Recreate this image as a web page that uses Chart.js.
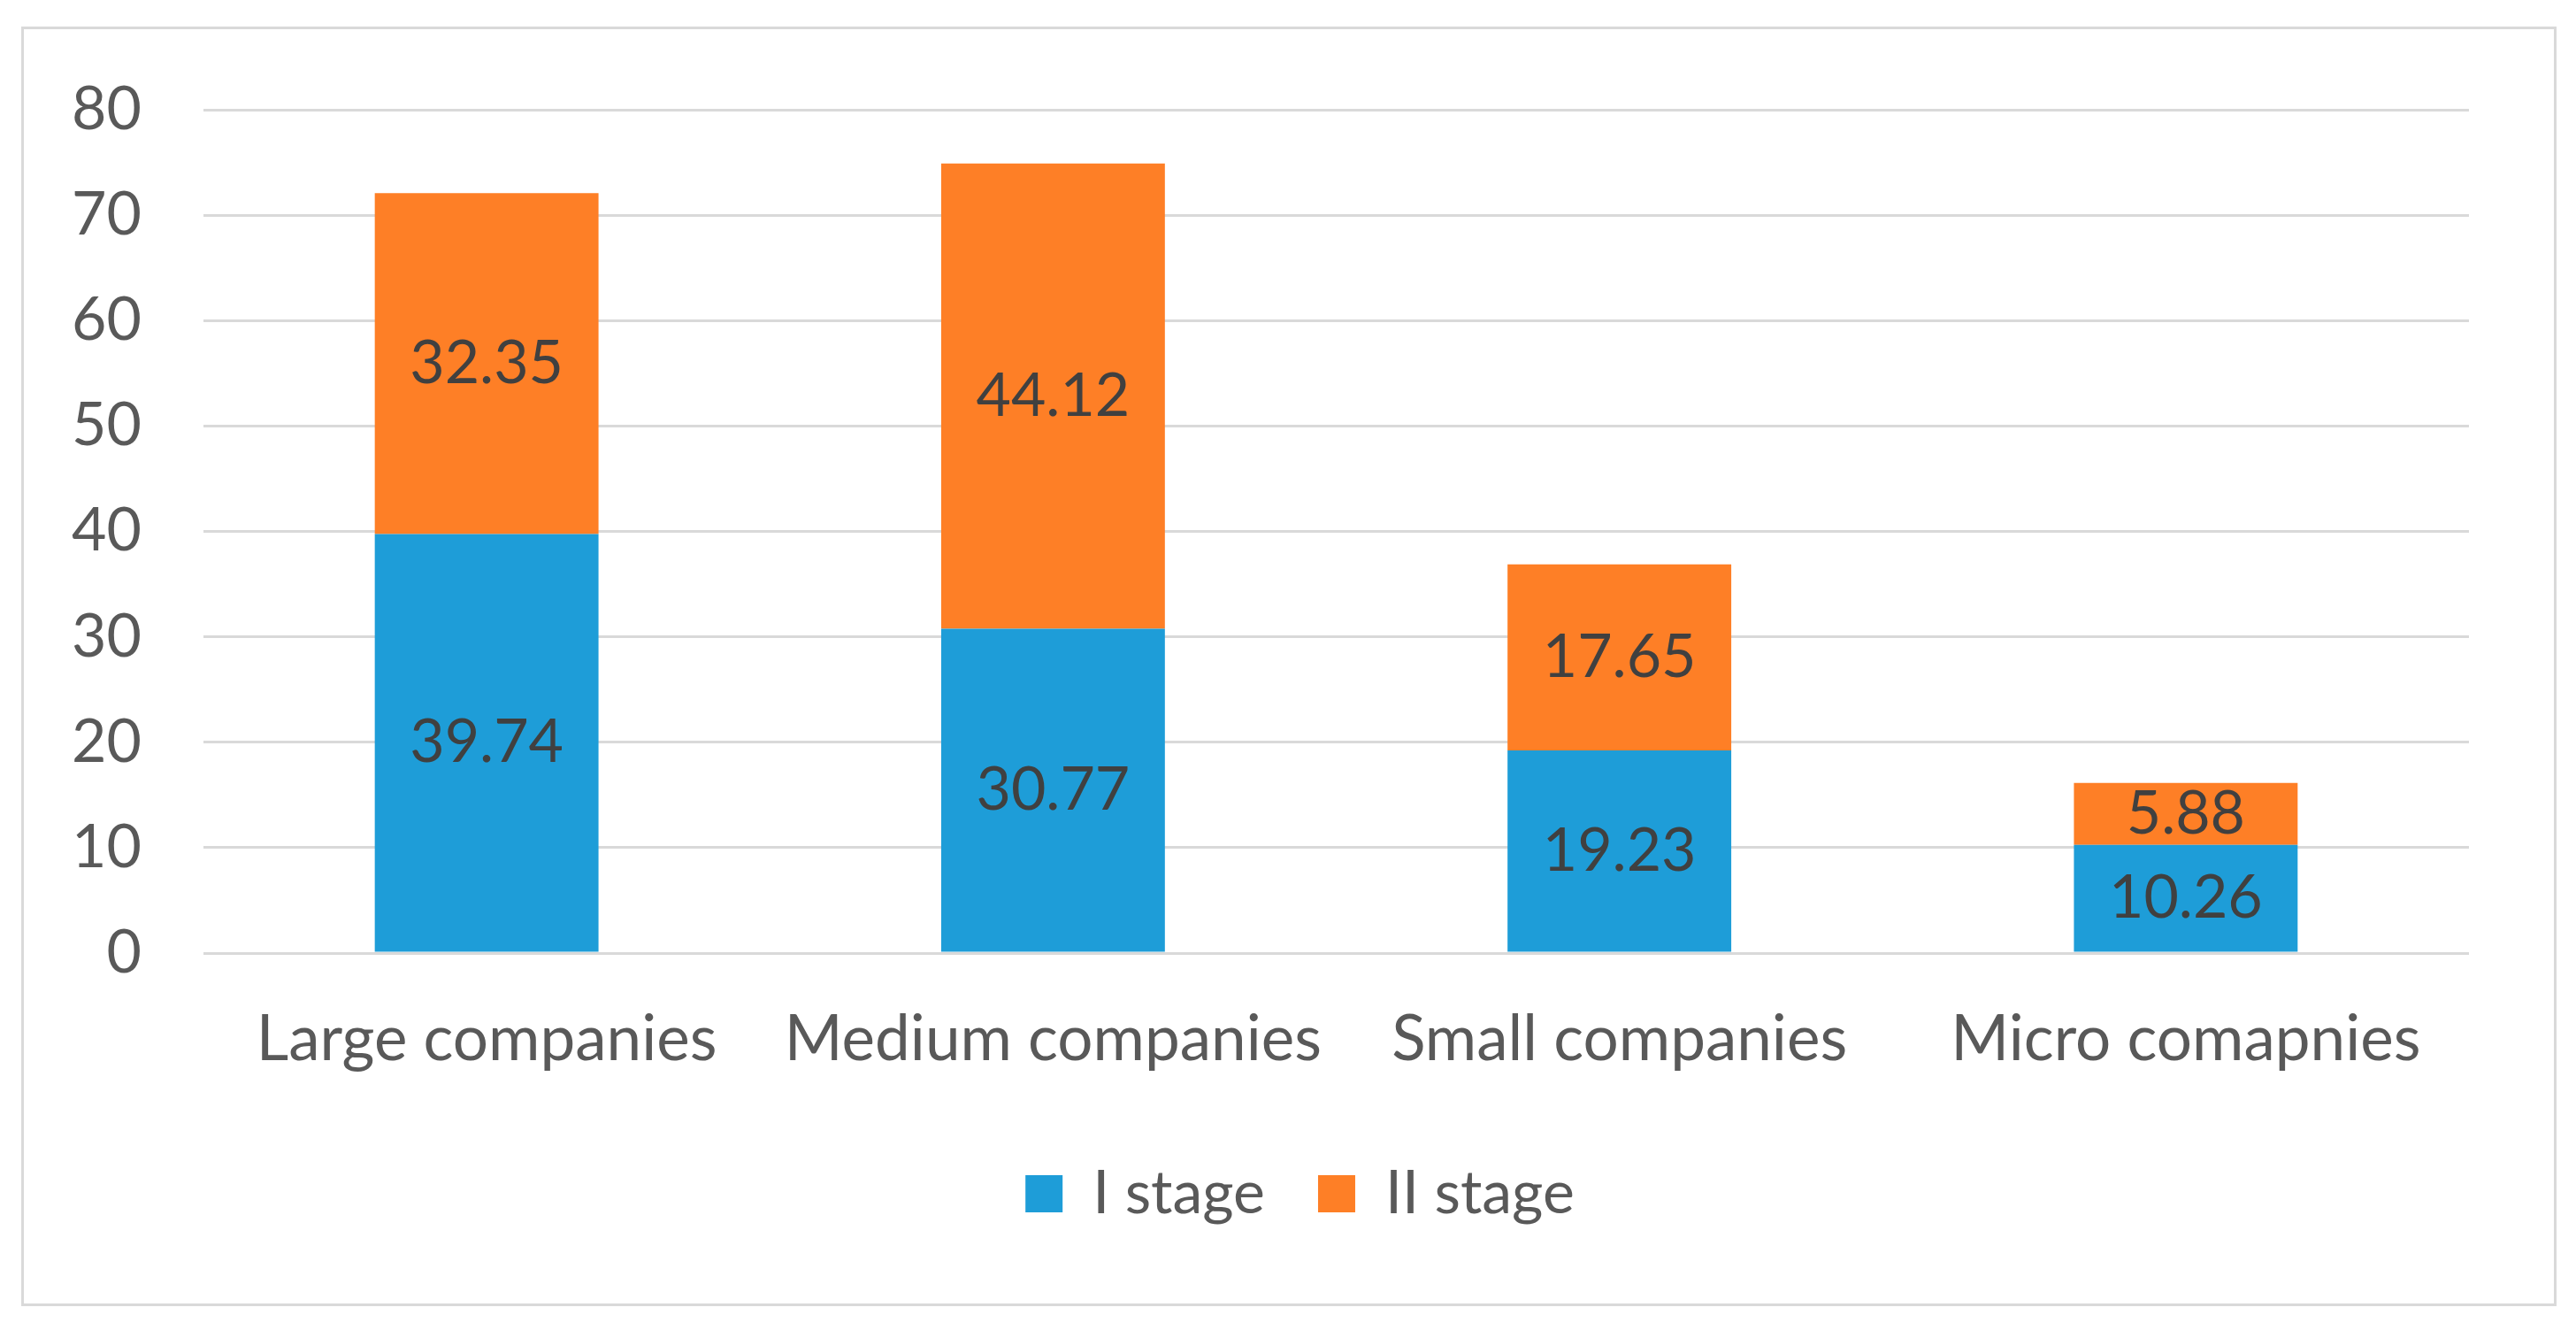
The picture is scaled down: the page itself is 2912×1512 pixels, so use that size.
<!DOCTYPE html>
<html>
<head>
<meta charset="utf-8">
<script src="https://cdn.jsdelivr.net/npm/chart.js@4.4.0/dist/chart.umd.min.js"></script>
<style>
  html, body { margin: 0; padding: 0; background: #fff; }
  #frame {
    position: absolute;
    left: 24px; top: 30px;
    width: 2860px; height: 1440px;
    border: 3px solid #d9d9d9;
    background: #fff;
  }
  #frame canvas { display: block; }
</style>
</head>
<body>
<div id="frame"><canvas id="stageChart"></canvas></div>
<script>
const categories = ['Large companies', 'Medium companies', 'Small companies', 'Micro comapnies'];
const stageOne = [39.74, 30.77, 19.23, 10.26];
const stageTwo = [32.35, 44.12, 17.65, 5.88];
const yTicks = [0, 10, 20, 30, 40, 50, 60, 70, 80];

const FONT = "Lato, 'Open Sans', sans-serif";

// draws the value in the middle of every stacked segment
const segmentLabels = {
  id: 'segmentLabels',
  afterDatasetsDraw(chart) {
    const ctx = chart.ctx;
    ctx.save();
    ctx.font = '68px ' + FONT;
    ctx.fillStyle = '#404040';
    ctx.textAlign = 'center';
    ctx.textBaseline = 'middle';
    chart.data.datasets.forEach((ds, i) => {
      const meta = chart.getDatasetMeta(i);
      meta.data.forEach((bar, j) => {
        const p = bar.getProps(['x', 'y', 'base'], true);
        ctx.fillText(ds.data[j].toFixed(2), p.x, (p.y + p.base) / 2);
      });
    });
    ctx.restore();
  }
};

// nudge the legend a little left so it sits under the middle of the frame
const legendNudge = {
  id: 'legendNudge',
  afterLayout(chart) {
    if (chart.legend) {
      chart.legend.left -= 41;
      chart.legend.right -= 41;
    }
  }
};

new Chart(document.getElementById('stageChart').getContext('2d'), {
  type: 'bar',
  data: {
    labels: categories,
    datasets: [{
      label: 'I stage',
      data: stageOne,
      backgroundColor: '#1e9dd8',
      categoryPercentage: 1,
      barPercentage: 0.395
    }, {
      label: 'II stage',
      data: stageTwo,
      backgroundColor: '#fe7f26',
      categoryPercentage: 1,
      barPercentage: 0.395
    }]
  },
  options: {
    responsive: true,
    maintainAspectRatio: false,
    animation: false,
    devicePixelRatio: 1,
    layout: {
      padding: { top: 0, right: 96, bottom: 80, left: 0 }
    },
    scales: {
      x: {
        stacked: true,
        grid: { display: false },
        border: { display: false },
        ticks: {
          padding: 48,
          color: '#595959',
          font: { size: 71, family: FONT }
        },
        afterFit(scale) { scale.height = 178; }
      },
      y: {
        stacked: true,
        min: 0,
        max: 80,
        afterBuildTicks(scale) { scale.ticks = yTicks.map(v => ({ value: v })); },
        grid: { color: '#d9d9d9', lineWidth: 3, drawTicks: false },
        border: { display: false },
        ticks: {
          padding: 70,
          color: '#595959',
          font: { size: 68, family: FONT }
        },
        afterFit(scale) {
          scale.width = 203;
          scale.paddingTop = 91;
          scale.paddingBottom = 0;
        }
      }
    },
    plugins: {
      legend: {
        position: 'bottom',
        fullSize: false,
        labels: {
          boxWidth: 42,
          boxHeight: 42,
          padding: 60,
          color: '#595959',
          font: { size: 68, family: FONT }
        }
      },
      tooltip: { enabled: false }
    }
  },
  plugins: [segmentLabels, legendNudge]
});
</script>
</body>
</html>
